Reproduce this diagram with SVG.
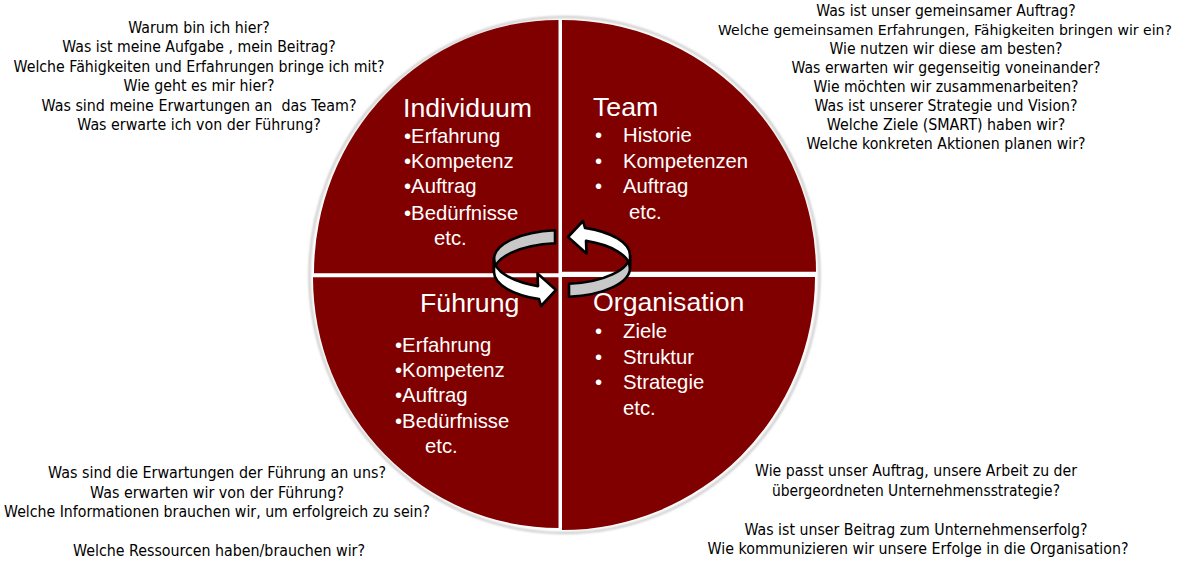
<svg xmlns="http://www.w3.org/2000/svg" width="1182" height="568" viewBox="0 0 1182 568">
<defs>
<style>
.q{fill:#800000;}
.h{font-family:"Liberation Sans",Arial,sans-serif;font-size:26.7px;fill:#fff;}
.i{font-family:"Liberation Sans",Arial,sans-serif;font-size:20.3px;fill:#fff;}
.t{font-family:"DejaVu Sans",Verdana,sans-serif;font-size:16px;fill:#000;text-anchor:middle;}
.back{fill:#c8c8c8;stroke:#000;stroke-width:2.6;stroke-linejoin:round;}
.front{fill:#fff;stroke:#000;stroke-width:2.6;stroke-linejoin:round;}
</style>
<filter id="blur" x="-10%" y="-10%" width="120%" height="120%"><feGaussianBlur stdDeviation="0.8"/></filter>
</defs>
<rect width="1182" height="568" fill="#fff"/>
<ellipse cx="564.5" cy="275" rx="255" ry="258" fill="none" stroke="#c4c4c4" stroke-width="2" filter="url(#blur)"/>

<g id="individuum">
<path class="q" d="M558.5,273.3 L314,273.3 A244.5,253.3 0 0 1 558.5,20 Z"/>
<text class="h" x="403" y="117">Individuum</text>
<text class="i" x="404" y="143">•Erfahrung</text>
<text class="i" x="404" y="168">•Kompetenz</text>
<text class="i" x="404" y="193">•Auftrag</text>
<text class="i" x="404" y="220">•Bedürfnisse</text>
<text class="i" x="434" y="245">etc.</text>
</g>

<g id="team">
<path class="q" d="M562,271.7 L562,20 A254,251.7 0 0 1 816,271.7 Z"/>
<text class="h" x="593" y="116">Team</text>
<text class="i" x="595" y="142">•</text><text class="i" x="623" y="142">Historie</text>
<text class="i" x="595" y="168">•</text><text class="i" x="623" y="168">Kompetenzen</text>
<text class="i" x="595" y="193">•</text><text class="i" x="623" y="193">Auftrag</text>
<text class="i" x="629" y="219">etc.</text>
</g>

<g id="fuehrung">
<path class="q" d="M558.5,277.3 L558.5,528 A245.5,250.7 0 0 1 313,277.3 Z"/>
<text class="h" x="420" y="312">Führung</text>
<text class="i" x="395" y="352">•Erfahrung</text>
<text class="i" x="395" y="377">•Kompetenz</text>
<text class="i" x="395" y="402">•Auftrag</text>
<text class="i" x="395" y="428">•Bedürfnisse</text>
<text class="i" x="425" y="453">etc.</text>
</g>

<g id="organisation">
<path class="q" d="M562,277 L815,277 A253,253 0 0 1 562,530 Z"/>
<text class="h" x="593" y="311">Organisation</text>
<text class="i" x="595" y="338">•</text><text class="i" x="623" y="338">Ziele</text>
<text class="i" x="595" y="364">•</text><text class="i" x="623" y="364">Struktur</text>
<text class="i" x="595" y="389">•</text><text class="i" x="623" y="389">Strategie</text>
<text class="i" x="623" y="415">etc.</text>
</g>

<g id="connectors">
<g id="arrow-left">
<path class="back" d="M555,230.2 A68,29 0 0 0 494,259 L494,272 A68,29 0 0 1 555,243.2 Z"/>
<path class="front" d="M494,259 A68,29 0 0 0 538,286.1 L537.5,273.5 L556,290 L541,306 L539,299.1 A68,29 0 0 1 494,272 Z"/>
</g>
<g id="arrow-right" transform="rotate(180 562 263.5)">
<path class="back" d="M555,230.2 A68,29 0 0 0 494,259 L494,272 A68,29 0 0 1 555,243.2 Z"/>
<path class="front" d="M494,259 A68,29 0 0 0 538,286.1 L537.5,273.5 L556,290 L541,306 L539,299.1 A68,29 0 0 1 494,272 Z"/>
</g>
</g>

<g id="questions-individuum">
<text class="t" x="199" y="32.5" textLength="141.5" lengthAdjust="spacingAndGlyphs">Warum bin ich hier?</text>
<text class="t" x="199" y="52" textLength="273.5" lengthAdjust="spacingAndGlyphs">Was ist meine Aufgabe , mein Beitrag?</text>
<text class="t" x="199" y="71.5" textLength="371" lengthAdjust="spacingAndGlyphs">Welche Fähigkeiten und Erfahrungen bringe ich mit?</text>
<text class="t" x="199" y="91" textLength="151" lengthAdjust="spacingAndGlyphs">Wie geht es mir hier?</text>
<text class="t" x="199" y="110.5" textLength="315" lengthAdjust="spacingAndGlyphs">Was sind meine Erwartungen an&#160; das Team?</text>
<text class="t" x="199" y="130" textLength="243.5" lengthAdjust="spacingAndGlyphs">Was erwarte ich von der Führung?</text>
</g>

<g id="questions-team">
<text class="t" x="946" y="15.5" textLength="259.5" lengthAdjust="spacingAndGlyphs">Was ist unser gemeinsamer Auftrag?</text>
<text class="t" x="945" y="34.6" style="font-size:14.3px" textLength="454" lengthAdjust="spacingAndGlyphs">Welche gemeinsamen Erfahrungen, Fähigkeiten bringen wir ein?</text>
<text class="t" x="946" y="53.7" textLength="233" lengthAdjust="spacingAndGlyphs">Wie nutzen wir diese am besten?</text>
<text class="t" x="946" y="72.8" textLength="309" lengthAdjust="spacingAndGlyphs">Was erwarten wir gegenseitig voneinander?</text>
<text class="t" x="946" y="91.9" textLength="265" lengthAdjust="spacingAndGlyphs">Wie möchten wir zusammenarbeiten?</text>
<text class="t" x="946" y="111" textLength="263" lengthAdjust="spacingAndGlyphs">Was ist unserer Strategie und Vision?</text>
<text class="t" x="946" y="130.1" textLength="238.5" lengthAdjust="spacingAndGlyphs">Welche Ziele (SMART) haben wir?</text>
<text class="t" x="946" y="149.2" textLength="279" lengthAdjust="spacingAndGlyphs">Welche konkreten Aktionen planen wir?</text>
</g>

<g id="questions-fuehrung">
<text class="t" x="217" y="478" textLength="338" lengthAdjust="spacingAndGlyphs">Was sind die Erwartungen der Führung an uns?</text>
<text class="t" x="217" y="497.5" textLength="254" lengthAdjust="spacingAndGlyphs">Was erwarten wir von der Führung?</text>
<text class="t" x="217" y="517" textLength="426" lengthAdjust="spacingAndGlyphs">Welche Informationen brauchen wir, um erfolgreich zu sein?</text>
<text class="t" x="219" y="556" textLength="292" lengthAdjust="spacingAndGlyphs">Welche Ressourcen haben/brauchen wir?</text>
</g>

<g id="questions-organisation">
<text class="t" x="916" y="476" textLength="322" lengthAdjust="spacingAndGlyphs">Wie passt unser Auftrag, unsere Arbeit zu der</text>
<text class="t" x="916" y="495.5" textLength="288" lengthAdjust="spacingAndGlyphs">übergeordneten Unternehmensstrategie?</text>
<text class="t" x="916" y="534.5" textLength="343" lengthAdjust="spacingAndGlyphs">Was ist unser Beitrag zum Unternehmenserfolg?</text>
<text class="t" x="918" y="554" textLength="421" lengthAdjust="spacingAndGlyphs">Wie kommunizieren wir unsere Erfolge in die Organisation?</text>
</g>
</svg>
